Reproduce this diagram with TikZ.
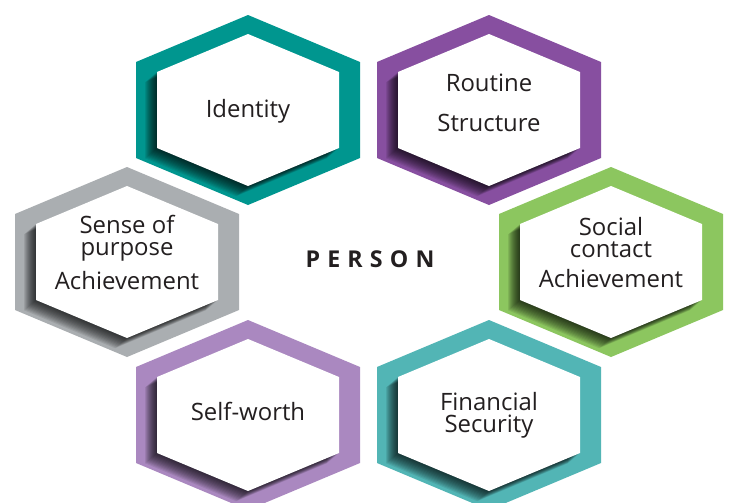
\documentclass[tikz,border=0pt]{standalone}
\usepackage{fontspec}
\setmainfont{Open Sans}
\newfontfamily\personfont[LetterSpace=31]{Open Sans}
\usepackage{tikz}
\usetikzlibrary{calc}
\definecolor{identityteal}{RGB}{0,150,143}
\definecolor{routinepurple}{RGB}{135,79,160}
\definecolor{purposegray}{RGB}{170,174,177}
\definecolor{socialgreen}{RGB}{140,198,95}
\definecolor{worthlilac}{RGB}{170,136,192}
\definecolor{securityteal}{RGB}{82,181,181}
\definecolor{textgray}{RGB}{35,31,32}

\tikzset{
  hexlabel/.style={align=center, inner sep=0pt, text=textgray, font=\fontsize{17}{15.6}\selectfont},
  hexshadow/.style={fill=black, opacity=0.085},
}

\begin{document}
\begin{tikzpicture}[x=0.025cm,y=-0.025cm]
                \clip (0,0) rectangle (731,502);
                \fill[white] (0,0) rectangle (731,502);
                %Centres
                \coordinate (identity) at (248,110);
                \coordinate (routine) at (489,110);
                \coordinate (purpose) at (127,262);
                \coordinate (social) at (611,262);
                \coordinate (worth) at (248,415);
                \coordinate (security) at (489,415);
                %Hexagons
                \foreach \c/\col/\dy/\txt in {
                    identity/identityteal/1/{Identity},
                    routine/routinepurple/-7/{Routine\\[12.5pt]Structure},
                    purpose/purposegray/-9.5/{Sense of\\purpose\\[6pt]Achievement},
                    social/socialgreen/-9.5/{Social\\contact\\[6pt]Achievement},
                    worth/worthlilac/-4/{Self-worth},
                    security/securityteal/0/{Financial\\Security}}{
                    %Border
                    \fill[\col] (\c) ++(0,-95) -- ++(112,47) -- ++(0,96) -- ++(-112,47)
                        -- ++(-112,-47) -- ++(0,-96) -- cycle;
                    %Shadow
                    \begin{scope}
                        \clip (\c) ++(0,-95) -- ++(112,47) -- ++(0,96) -- ++(-112,47)
                            -- ++(-112,-47) -- ++(0,-96) -- cycle;
                        \foreach \k in {1,...,12}
                            \fill[hexshadow] ($(\c)+(-\k,0.85*\k)$) ++(0,-76) -- ++(91,38) -- ++(0,76)
                                -- ++(-91,38) -- ++(-91,-38) -- ++(0,-76) -- cycle;
                    \end{scope}
                    %Face
                    \fill[white] (\c) ++(0,-76) -- ++(91,38) -- ++(0,76) -- ++(-91,38)
                        -- ++(-91,-38) -- ++(0,-76) -- cycle;
                    \node[hexlabel] (\c-text) at ($(\c)+(0,\dy)$) {\txt};
                }
                %Middle
                \node[inner sep=0pt, text=textgray, font=\personfont\bfseries\fontsize{16.5}{18}\selectfont]
                    (person) at (370,259) {PERSON};
            \end{tikzpicture}
\end{document}
